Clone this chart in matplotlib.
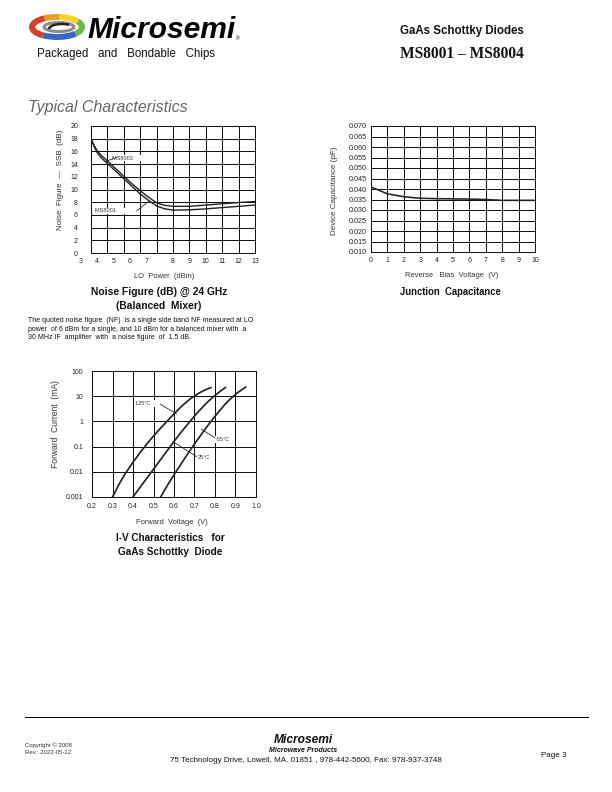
import numpy as np
import matplotlib
matplotlib.use("Agg")
import matplotlib.pyplot as plt
from matplotlib.patches import Arc
from matplotlib.transforms import blended_transform_factory

plt.rcParams['font.family'] = ['Liberation Sans', 'DejaVu Sans']

# noise figure vs LO power
lo_power = [3, 3.2, 3.4, 3.7, 4, 4.5, 5, 5.5, 6, 6.5, 7, 7.5, 8, 9, 10, 11, 12, 13]
nf_ms8003 = [18, 16.9, 16.0, 15.2, 14.5, 13.3, 12.1, 10.9, 9.8, 8.8, 7.9, 7.5, 7.35, 7.35, 7.55, 7.75, 7.95, 8.1]
nf_ms8001 = [18, 16.7, 15.7, 14.8, 14.1, 12.9, 11.7, 10.5, 9.3, 8.3, 7.4, 6.95, 6.75, 6.8, 6.95, 7.15, 7.35, 7.55]
lo_tick_pos = [2.37, 3.35, 4.37, 5.34, 6.37, 8, 9, 10, 11, 12, 13]
lo_tick_lab = ['3', '4', '5', '6', '7', '8', '9', '10', '11', '12', '13']

# junction capacitance
bias_v = [0, 1, 2, 3, 4, 5, 6, 7, 8, 9, 10]
cap_pf = [0.041, 0.0377, 0.0363, 0.0356, 0.0354, 0.0353, 0.0352, 0.0350, 0.0346, 0.0346, 0.0346]

# I-V curves (mA)
v_125 = [0.30, 0.33, 0.36, 0.40, 0.44, 0.48, 0.52, 0.56, 0.60, 0.64, 0.68, 0.72, 0.75, 0.78]
i_125 = [0.001, 0.003, 0.008, 0.024, 0.066, 0.17, 0.4, 0.9, 2.0, 4.2, 7.9, 13, 17.5, 22]
v_25 = [0.40, 0.44, 0.48, 0.52, 0.56, 0.60, 0.64, 0.68, 0.72, 0.76, 0.79, 0.82, 0.85]
i_25 = [0.001, 0.0028, 0.0076, 0.021, 0.058, 0.16, 0.42, 1.05, 2.5, 5.5, 9.2, 14.5, 22]
v_m55 = [0.535, 0.57, 0.61, 0.65, 0.69, 0.73, 0.77, 0.81, 0.85, 0.88, 0.91, 0.95]
i_m55 = [0.001, 0.0031, 0.0102, 0.032, 0.098, 0.28, 0.78, 2.0, 4.9, 8.5, 13.8, 23]

W, H = 612, 792
fig = plt.figure(figsize=(W / 72, H / 72), dpi=72)


def box(l, t, r, b):
    return [l / W, 1 - b / H, (r - l) / W, (b - t) / H]


def ftext(x, y, s, **kw):
    fig.text(x / W, 1 - y / H, s, **kw)


def style(ax):
    ax.grid(True, color='#111', lw=1.0)
    ax.set_axisbelow(True)
    for sp in ax.spines.values():
        sp.set_color('#111')
        sp.set_linewidth(1.0)
    ax.tick_params(length=0, labelsize=7, colors='#222')


# ---- header ----
lax = fig.add_axes(box(26, 12, 88, 42))
lax.set_xlim(0, 62)
lax.set_ylim(30, 0)
lax.axis('off')
ring = [(20, 150, '#3a66c0'), (150, 215, '#d8402e'), (215, 285, '#e8a020'),
        (285, 345, '#f2d22a'), (345, 380, '#6cb84a')]
for t1, t2, c in ring:
    lax.add_patch(Arc((31, 15), 50, 20, theta1=t1, theta2=t2, lw=6, color=c))
lax.add_patch(Arc((33, 15), 30, 9, theta1=0, theta2=360, lw=3, color='#8c8c8c'))
lax.add_patch(Arc((36, 17), 26, 10, theta1=180, theta2=330, lw=2.5, color='#222'))

ftext(87, 38, 'Microsemi', fontsize=30, fontweight='bold', style='italic',
      color='black', family=['Liberation Sans'])
ftext(236, 40, '\u00ae', fontsize=5, color='black')
ftext(37, 57, 'Packaged   and   Bondable   Chips', fontsize=11.5, color='#111')
ftext(400, 34, 'GaAs Schottky Diodes', fontsize=11.5, fontweight='bold', color='#111')
ftext(400, 58, 'MS8001 \u2013 MS8004', fontsize=15.5, fontweight='bold',
      family=['Liberation Serif'], color='#111')
ftext(28, 112, 'Typical Characteristics', fontsize=16, style='italic', color='#666')

# ---- noise figure ----
ax1 = fig.add_axes(box(91, 126, 255, 253))
ax1.plot(lo_power, nf_ms8003, color='#222', lw=1.4, zorder=3)
ax1.plot(lo_power, nf_ms8001, color='#222', lw=1.4, zorder=3)
ax1.set_xlim(3, 13)
ax1.set_ylim(0, 20)
ax1.set_xticks(range(3, 14))
ax1.set_xticklabels([])
ax1.set_yticks(range(0, 21, 2))
style(ax1)
ax1.tick_params(axis='y', pad=13)
trans = blended_transform_factory(ax1.transData, ax1.transAxes)
for p, s in zip(lo_tick_pos, lo_tick_lab):
    ax1.text(p, -0.065, s, transform=trans, ha='center', va='center',
             fontsize=7, color='#222', clip_on=False)
ax1.set_ylabel('Noise  Figure  \u2014  SSB  (dB)', fontsize=8, color='#333')
ax1.yaxis.set_label_coords(-0.165, 0.58)
ax1.text(4.3, 14.95, 'MS8003       ', fontsize=5.5, color='#333', va='center', zorder=4,
         bbox=dict(facecolor='white', edgecolor='none', pad=0.6))
ax1.plot([3.92, 4.55], [14.45, 15.05], color='#222', lw=0.8, zorder=5)
ax1.text(3.24, 6.66, 'MS8001        ', fontsize=5.5, color='#333', va='center', zorder=4,
         bbox=dict(facecolor='white', edgecolor='none', pad=0.6))
ax1.plot([5.79, 6.5], [6.66, 8.1], color='#222', lw=0.8, zorder=5)
ftext(164, 278, 'LO  Power  (dBm)', fontsize=7.5, color='#333', ha='center')
ftext(159, 295, 'Noise Figure (dB) @ 24 GHz', fontsize=10.3, fontweight='bold',
      color='#111', ha='center')
ftext(159, 309, '(Balanced  Mixer)', fontsize=10.3, fontweight='bold', color='#111', ha='center')

para = ('The quoted noise figure  (NF)  is a single side band NF measured at LO\n'
        'power  of 6 dBm for a single, and 10 dBm for a balanced mixer with  a\n'
        '30 MHz IF  amplifier  with  a noise figure  of  1.5 dB.')
ftext(28, 317, para, fontsize=7, color='#111', linespacing=1.3, va='top')

# ---- junction capacitance ----
ax2 = fig.add_axes(box(371, 126, 535, 252))
ax2.plot(bias_v, cap_pf, color='#222', lw=1.6, zorder=3)
ax2.set_xlim(0, 10)
ax2.set_ylim(0.010, 0.070)
ax2.set_xticks(range(0, 11))
ax2.set_yticks(np.arange(0.010, 0.0701, 0.005))
ax2.set_yticklabels(['%.3f' % v for v in np.arange(0.010, 0.0701, 0.005)])
style(ax2)
ax2.tick_params(axis='y', pad=4, labelsize=7.3)
ax2.tick_params(axis='x', pad=5)
ax2.set_ylabel('Device Capacitance (pF)', fontsize=8, color='#333')
ax2.yaxis.set_label_coords(-0.20, 0.49)
ftext(452, 277, 'Reverse   Bias  Voltage  (V)', fontsize=7.5, color='#333', ha='center')
ftext(450, 295, 'Junction  Capacitance', fontsize=9.5, fontweight='bold', color='#111', ha='center')

# ---- I-V ----
ax3 = fig.add_axes(box(92, 371, 256, 497))
ax3.semilogy(v_125, i_125, color='#222', lw=1.7, zorder=3)
ax3.semilogy(v_25, i_25, color='#222', lw=1.7, zorder=3)
ax3.semilogy(v_m55, i_m55, color='#222', lw=1.7, zorder=3)
ax3.set_xlim(0.2, 1.0)
ax3.set_ylim(0.001, 100)
ax3.set_xticks(np.arange(0.2, 1.01, 0.1))
ax3.set_xticklabels(['%.1f' % v for v in np.arange(0.2, 1.01, 0.1)])
ax3.set_yticks([0.001, 0.01, 0.1, 1, 10, 100])
ax3.set_yticklabels(['0.001', '0.01', '0.1', '1', '10', '100'])
ax3.minorticks_off()
style(ax3)
ax3.tick_params(axis='y', pad=9)
ax3.tick_params(axis='x', pad=6)
ax3.set_ylabel('Forward  Current  (mA)', fontsize=8.5, color='#333')
ax3.yaxis.set_label_coords(-0.195, 0.58)
ax3.text(0.41, 5.1, '125\u00b0C      ', fontsize=5.5, color='#333', va='center', zorder=4,
         bbox=dict(facecolor='white', edgecolor='none', pad=0.6))
ax3.plot([0.533, 0.612], [4.8, 2.0], color='#222', lw=0.8, zorder=5)
ax3.text(0.803, 0.19, '-55\u00b0C', fontsize=5.5, color='#333', va='center', zorder=4,
         bbox=dict(facecolor='white', edgecolor='none', pad=0.6))
ax3.plot([0.798, 0.733], [0.23, 0.49], color='#222', lw=0.8, zorder=5)
ax3.text(0.715, 0.037, '25\u00b0C', fontsize=5.5, color='#333', va='center', zorder=4,
         bbox=dict(facecolor='white', edgecolor='none', pad=0.6))
ax3.plot([0.71, 0.596], [0.04, 0.155], color='#222', lw=0.8, zorder=5)
ftext(172, 524, 'Forward  Voltage  (V)', fontsize=7.5, color='#333', ha='center')
ftext(170, 541, 'I-V Characteristics   for', fontsize=10, fontweight='bold',
      color='#111', ha='center')
ftext(170, 555, 'GaAs Schottky  Diode', fontsize=10, fontweight='bold', color='#111', ha='center')

# ---- footer ----
fig.add_artist(plt.Line2D([25 / W, 588 / W], [1 - 717 / H, 1 - 717 / H], color='black', lw=1.0))
ftext(25, 747, 'Copyright \u00a9 2008', fontsize=6, color='#333')
ftext(25, 754, 'Rev.: 2022-05-12', fontsize=6, color='#333')
ftext(303, 743, 'Microsemi', fontsize=12, fontweight='bold', style='italic',
      color='#111', ha='center')
ftext(303, 752, 'Microwave Products', fontsize=7, fontweight='bold', style='italic',
      color='#111', ha='center')
ftext(306, 762, '75 Technology Drive, Lowell, MA. 01851 , 978-442-5600, Fax: 978-937-3748',
      fontsize=8, color='#111', ha='center')
ftext(541, 757, 'Page 3', fontsize=8, color='#111')

fig.savefig('out.png', dpi=72)
